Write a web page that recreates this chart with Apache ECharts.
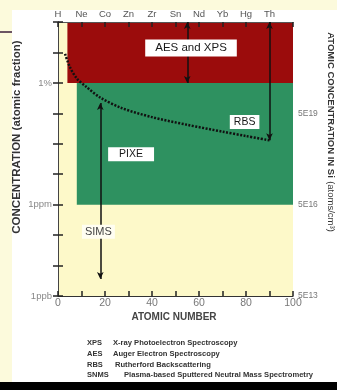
<!DOCTYPE html>
<html>
<head>
<meta charset="utf-8">
<script src="https://cdn.jsdelivr.net/npm/echarts@6/dist/echarts.min.js"></script>
<style>
  html, body { margin: 0; padding: 0; background: #fcfadc; }
  #panel { position: absolute; left: 12px; top: 10px; width: 325px; height: 372px; background: #ffffff; }
  #chart { position: absolute; left: 0; top: 0; width: 337px; height: 390px; }
</style>
</head>
<body>
<div id="panel"></div>
<div id="chart"></div>
<script>
// detection ranges (atomic number from .. to, concentration low .. high)
const regionNames = ['AES and XPS', 'PIXE'];
const regionZFrom = [4, 8];
const regionZTo = [100, 100];
const regionLow = [1e-2, 1e-6];
const regionHigh = [1, 1e-2];

// RBS sensitivity curve
const rbsZ = [3, 5, 8, 12, 18, 27, 40, 55, 70, 80, 90];
const rbsConc = [0.09, 0.034, 0.014, 0.0075, 0.0033, 0.0015, 0.00075, 0.00042, 0.00025, 0.00018, 0.00013];

// range arrows (SIMS, AES/XPS, RBS)
const arrowZ = [18, 55, 90];
const arrowTop = [2.2e-3, 1, 1];
const arrowBottom = [3.6e-9, 1e-2, 1.3e-4];

// boxed labels
const labelText = ['AES and XPS', 'RBS', 'PIXE', 'SIMS'];
const labelZ = [56.6, 79.4, 31.1, 17.2];
const labelConc = [0.14, 5.2e-4, 4.5e-5, 1.3e-7];

// axis labels
const topElements = ['H', 'Ne', 'Co', 'Zn', 'Zr', 'Sn', 'Nd', 'Yb', 'Hg', 'Th'];
const leftExp = [-9, -6, -2];
const leftText = ['1ppb', '1ppm', '1%'];
const rightExp = [-9, -6, -3];
const rightText = ['5E13', '5E16', '5E19'];

// abbreviations
const abbr = ['XPS', 'AES', 'RBS', 'SNMS', 'SIMS'];
const desc = [
    'X-ray Photoelectron Spectroscopy',
    'Auger Electron Spectroscopy',
    'Rutherford Backscattering',
    'Plasma-based Sputtered Neutral Mass Spectrometry',
    'Secondary Ion Mass Spectrometry'
];

const FONT = 'Liberation Sans, Arial, sans-serif';
const regionColors = ['#9b0c0c', '#2e9160'];
const boxPad = [[3, 10, 2, 10], [2, 4, 1, 4], [2, 11, 1, 11], [2, 3, 1, 3]];
const boxFont = [11.5, 10.5, 10.5, 11];
const boxFill = ['#ffffff', '#ffffff', '#ffffff', '#fffef2'];
const descX = [113, 113, 115, 124, 120];

const expOf = v => Math.round(Math.log10(v));

const tickStyle = { color: '#222', width: 1.5 };

const option = {
    animation: false,
    grid: {
        left: 58, right: 44, top: 22, bottom: 94,
        show: true,
        backgroundColor: '#fdf9c9',
        borderWidth: 0
    },
    xAxis: [
        {
            type: 'value', position: 'bottom', min: 0, max: 100, interval: 10, z: 4,
            axisLine: { lineStyle: { color: '#333', width: 1.2 } },
            axisTick: { inside: true, length: 5, lineStyle: tickStyle },
            splitLine: { show: false },
            axisLabel: {
                margin: 2, color: '#777', fontSize: 10.5, fontFamily: FONT,
                formatter: v => (v % 20 === 0 ? String(v) : '')
            }
        },
        {
            type: 'value', position: 'top', min: 0, max: 100, interval: 10, z: 4,
            axisLine: { lineStyle: { color: '#555', width: 1 } },
            axisTick: { inside: true, length: 5, lineStyle: tickStyle },
            splitLine: { show: false },
            axisLabel: {
                margin: 3, color: '#555', fontSize: 9.5, fontFamily: FONT,
                formatter: v => (topElements[Math.round(v / 10)] !== undefined && v < 100 ? topElements[Math.round(v / 10)] : '')
            }
        }
    ],
    yAxis: [
        {
            type: 'log', logBase: 10, min: 1e-9, max: 1, splitNumber: 9, position: 'left', z: 4,
            axisLine: { show: true, lineStyle: { color: '#444', width: 1 } },
            axisTick: { show: true, inside: true, length: 5, lineStyle: tickStyle },
            splitLine: { show: false },
            minorTick: { show: false },
            axisLabel: {
                margin: 6, color: '#888', fontSize: 9.5, fontFamily: FONT,
                formatter: v => { const i = leftExp.indexOf(expOf(v)); return i >= 0 ? leftText[i] : ''; }
            }
        },
        {
            type: 'log', logBase: 10, min: 1e-9, max: 1, splitNumber: 9, position: 'right', z: 4,
            axisLine: { show: true, lineStyle: { color: '#444', width: 1 } },
            axisTick: { show: true, inside: true, length: 5, lineStyle: tickStyle },
            splitLine: { show: false },
            axisLabel: {
                margin: 5, color: '#777', fontSize: 8.5, fontFamily: FONT,
                formatter: v => { const i = rightExp.indexOf(expOf(v)); return i >= 0 ? rightText[i] : ''; }
            }
        }
    ],
    series: [
        {
            type: 'custom',
            z: 1,
            silent: true,
            encode: { x: [0, 1], y: [2, 3] },
            data: regionNames.map((n, i) => [regionZFrom[i], regionZTo[i], regionLow[i], regionHigh[i]]),
            renderItem: function (params, api) {
                const p0 = api.coord([api.value(0), api.value(3)]);
                const p1 = api.coord([api.value(1), api.value(2)]);
                return {
                    type: 'rect',
                    shape: { x: p0[0], y: p0[1], width: p1[0] - p0[0], height: p1[1] - p0[1] },
                    style: { fill: regionColors[params.dataIndex] }
                };
            }
        },
        {
            type: 'line',
            z: 3,
            smooth: 0.3,
            symbol: 'none',
            silent: true,
            data: rbsZ.map((z, i) => [z, rbsConc[i]]),
            lineStyle: { color: '#111', width: 2.5, type: [2, 1.5] },
            markLine: {
                silent: true,
                symbol: ['arrow', 'arrow'],
                symbolSize: [5, 7],
                label: { show: false },
                lineStyle: { color: '#111', width: 1.5, type: 'solid' },
                data: arrowZ.map((z, i) => [{ coord: [z, arrowTop[i]] }, { coord: [z, arrowBottom[i]] }])
            }
        },
        {
            type: 'scatter',
            z: 6,
            silent: true,
            symbolSize: 0,
            itemStyle: { opacity: 1 },
            data: labelText.map((t, i) => ({
                name: t,
                value: [labelZ[i], labelConc[i]],
                label: {
                    show: true,
                    opacity: 1,
                    position: 'inside',
                    formatter: '{b}',
                    color: i === 3 ? '#444' : '#1a1a1a',
                    fontSize: boxFont[i],
                    fontFamily: FONT,
                    backgroundColor: boxFill[i],
                    padding: boxPad[i]
                }
            }))
        }
    ],
    graphic: [
        {
            type: 'line', shape: { x1: 0, y1: 32, x2: 12, y2: 32 },
            style: { stroke: '#3b1d3b', lineWidth: 1.5 }
        },
        {
            type: 'text', x: 16.5, y: 137, rotation: Math.PI / 2,
            style: {
                text: 'CONCENTRATION (atomic fraction)', align: 'center', verticalAlign: 'middle',
                font: 'bold 11.5px ' + FONT, fill: '#333'
            }
        },
        {
            type: 'text', x: 331, y: 132, rotation: -Math.PI / 2,
            style: {
                text: '{b|ATOMIC CONCENTRATION IN Si} {n|(atoms/cm³)}', align: 'center', verticalAlign: 'middle',
                rich: {
                    b: { fontWeight: 'bold', fontSize: 9.5, fontFamily: FONT, fill: '#333' },
                    n: { fontSize: 9.5, fontFamily: FONT, fill: '#333' }
                }
            }
        },
        {
            type: 'text', x: 174, y: 317,
            style: {
                text: 'ATOMIC NUMBER', align: 'center', verticalAlign: 'middle',
                font: 'bold 10px ' + FONT, fill: '#444'
            }
        },
        ...abbr.map((a, i) => ({
            type: 'text', x: 87, y: 343.3 + i * 10.7,
            style: { text: a, verticalAlign: 'middle', font: 'bold 7.5px ' + FONT, fill: '#333' }
        })),
        ...desc.map((d, i) => ({
            type: 'text', x: descX[i], y: 343.3 + i * 10.7,
            style: { text: d, verticalAlign: 'middle', font: 'bold 7.6px ' + FONT, fill: '#333' }
        })),
        {
            type: 'rect', z: 100, shape: { x: 0, y: 382, width: 337, height: 8 },
            style: { fill: '#000' }
        }
    ]
};

const chart = echarts.init(document.getElementById('chart'));
chart.setOption(option);
</script>
</body>
</html>
